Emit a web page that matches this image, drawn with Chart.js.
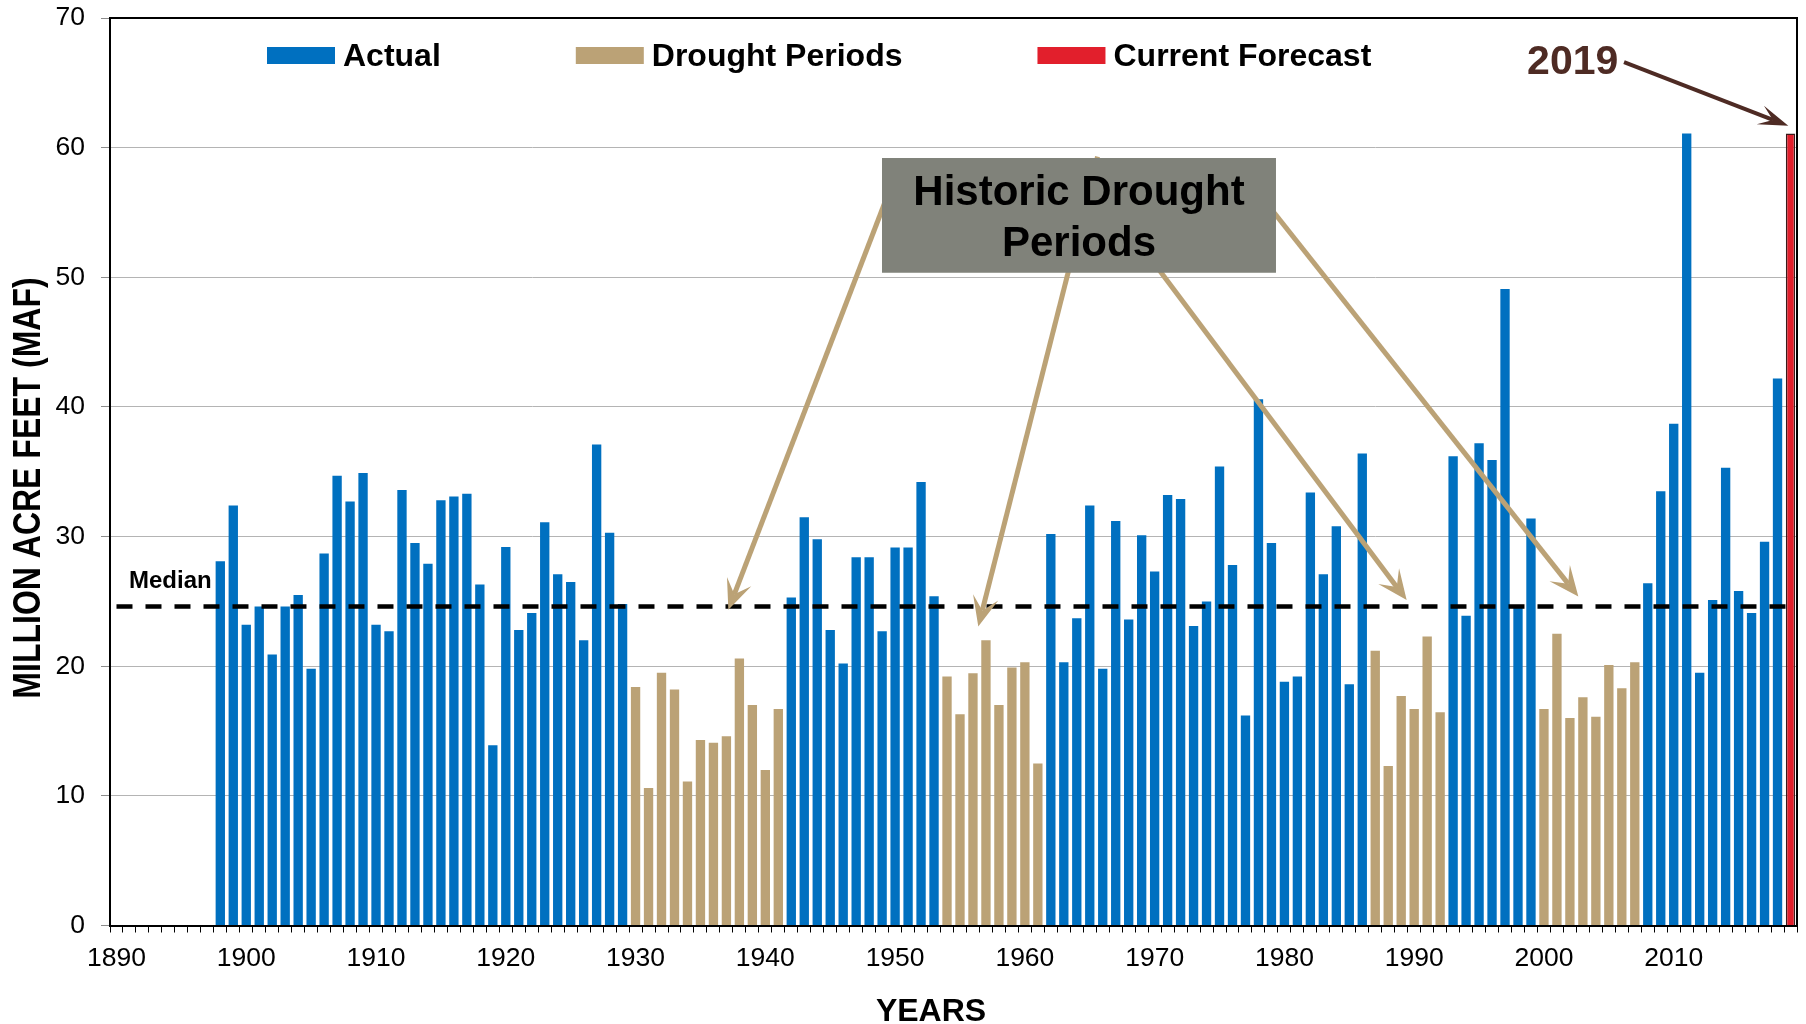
<!DOCTYPE html>
<html><head><meta charset="utf-8">
<script src="https://cdn.jsdelivr.net/npm/chart.js@4.4.1/dist/chart.umd.min.js"></script>
<style>html,body{margin:0;padding:0;background:#fff;}canvas{display:block;}</style>
</head><body>
<canvas id="c" width="1806" height="1024"></canvas>
<script>
// ---------------- DATA ----------------
const FIRST_YEAR = 1890;
const LAST_YEAR = 2019;
const FLOW_START_YEAR = 1898;
// Annual flow (million acre feet), 1898 .. 2019
const annualFlow = [
  28.1, 32.4,                                                 // 1898-1899
  23.2, 24.6, 20.9, 24.6, 25.5, 19.8, 28.7, 34.7, 32.7, 34.9, // 1900-1909
  23.2, 22.7, 33.6, 29.5, 27.9, 32.8, 33.1, 33.3, 26.3, 13.9, // 1910-1919
  29.2, 22.8, 24.1, 31.1, 27.1, 26.5, 22.0, 37.1, 30.3, 24.8, // 1920-1929
  18.4, 10.6, 19.5, 18.2, 11.1, 14.3, 14.1, 14.6, 20.6, 17.0, // 1930-1939
  12.0, 16.7, 25.3, 31.5, 29.8, 22.8, 20.2, 28.4, 28.4, 22.7, // 1940-1949
  29.15, 29.15, 34.2, 25.4, 19.2, 16.3, 19.45, 22.0, 17.0, 19.9, // 1950-1959
  20.3, 12.5, 30.2, 20.3, 23.7, 32.4, 19.8, 31.2, 23.6, 30.1, // 1960-1969
  27.3, 33.2, 32.9, 23.1, 25.0, 35.4, 27.8, 16.2, 40.6, 29.5, // 1970-1979
  18.8, 19.2, 33.4, 27.1, 30.8, 18.6, 36.4, 21.2, 12.3, 17.7, // 1980-1989
  16.7, 22.3, 16.45, 36.2, 23.9, 37.2, 35.9, 49.1, 24.6, 31.4, // 1990-1999
  16.7, 22.5, 16.0, 17.6, 16.1, 20.1, 18.3, 20.3, 26.4, 33.5, // 2000-2009
  38.7, 61.1, 19.5, 25.1, 35.3, 25.8, 24.1, 29.6, 42.2, 61.1  // 2010-2019
];
const droughtPeriods = [[1930, 1941], [1954, 1961], [1987, 1992], [2000, 2007]];
const forecastYear = 2019;
const medianFlow = 24.6;
const seriesNames = ['Actual', 'Drought Periods', 'Current Forecast'];
const yAxisTicks = [0, 10, 20, 30, 40, 50, 60, 70];
const xLabelEvery = 10;

// ---------------- BUILD ----------------
const years = [];
for (let y = FIRST_YEAR; y <= LAST_YEAR; y++) years.push(y);
const flowOf = y => (y >= FLOW_START_YEAR && y - FLOW_START_YEAR < annualFlow.length) ? annualFlow[y - FLOW_START_YEAR] : null;
const inDrought = y => droughtPeriods.some(p => y >= p[0] && y <= p[1]);
const actualData = years.map(y => (flowOf(y) !== null && !inDrought(y) && y !== forecastYear) ? flowOf(y) : null);
const droughtData = years.map(y => (flowOf(y) !== null && inDrought(y) && y !== forecastYear) ? flowOf(y) : null);
const forecastData = years.map(y => y === forecastYear ? flowOf(y) : null);
const medianData = years.map(() => medianFlow);

const FONT = "'Liberation Sans', Arial, Helvetica, sans-serif";
const BLUE = '#0070C0', TAN = '#BBA276', RED = '#E21F2C', BROWN = '#4E2B24';

// ---------------- ANNOTATIONS PLUGIN ----------------
function drawArrow(ctx, x0, y0, x1, y1, color, width, headLen, headW) {
  const ang = Math.atan2(y1 - y0, x1 - x0);
  const ux = Math.cos(ang), uy = Math.sin(ang);
  const px = -uy, py = ux;
  const notch = headLen * 0.55;
  ctx.save();
  ctx.strokeStyle = color; ctx.fillStyle = color; ctx.lineWidth = width; ctx.lineCap = 'butt';
  ctx.beginPath(); ctx.moveTo(x0, y0); ctx.lineTo(x1 - ux * notch, y1 - uy * notch); ctx.stroke();
  const bx = x1 - ux * headLen, by = y1 - uy * headLen;
  ctx.beginPath();
  ctx.moveTo(x1, y1);
  ctx.lineTo(bx + px * headW / 2, by + py * headW / 2);
  ctx.lineTo(x1 - ux * notch, y1 - uy * notch);
  ctx.lineTo(bx - px * headW / 2, by - py * headW / 2);
  ctx.closePath(); ctx.fill();
  ctx.restore();
}

const annotate = {
  id: 'annotate',
  beforeDraw(chart) {
    const ctx = chart.ctx;
    ctx.save(); ctx.fillStyle = '#fff'; ctx.fillRect(0, 0, chart.width, chart.height); ctx.restore();
  },
  afterDraw(chart) {
    const ctx = chart.ctx, a = chart.chartArea;
    const xs = chart.scales.x, ys = chart.scales.y;
    const X = yr => xs.getPixelForValue(yr - FIRST_YEAR);
    const Y = v => ys.getPixelForValue(v);
    ctx.save();
    // frame top & right
    ctx.strokeStyle = '#000'; ctx.lineWidth = 2;
    ctx.beginPath(); ctx.moveTo(a.left, a.top); ctx.lineTo(a.right, a.top); ctx.lineTo(a.right, a.bottom); ctx.stroke();

    // legend (inside plot)
    const colors = [BLUE, TAN, RED];
    ctx.font = `bold 32px ${FONT}`; ctx.textBaseline = 'alphabetic'; ctx.textAlign = 'left';
    let lx = a.left + 157;
    seriesNames.forEach((name, i) => {
      ctx.fillStyle = colors[i]; ctx.fillRect(lx, 47, 68, 17);
      ctx.fillStyle = '#000'; ctx.fillText(name, lx + 76, 66);
      lx += 76 + ctx.measureText(name).width + 135;
    });

    // Median label
    ctx.font = `bold 24px ${FONT}`; ctx.fillStyle = '#000';
    ctx.fillText('Median', a.left + 19, Y(medianFlow + 1.45));

    // drought arrows (drawn before box)
    const arrows = [
      [1949.3, 56.0, 1937.15, 24.36],
      [1965.6, 59.3, 1956.41, 23.07],
      [1968.0, 53.7, 1989.42, 25.10],
      [1978.4, 56.0, 2002.65, 25.37]
    ];
    arrows.forEach(r => drawArrow(ctx, X(r[0]), Y(r[1]), X(r[2]), Y(r[3]), TAN, 5, 30, 26));

    // box
    const bx0 = X(1948.99), bx1 = X(1979.35), by0 = Y(59.2), by1 = Y(50.35);
    ctx.fillStyle = '#80827A'; ctx.fillRect(bx0, by0, bx1 - bx0, by1 - by0);
    ctx.fillStyle = '#000'; ctx.font = `bold 42px ${FONT}`; ctx.textAlign = 'center';
    const cx = (bx0 + bx1) / 2;
    ctx.fillText('Historic Drought', cx, by0 + 47);
    ctx.fillText('Periods', cx, by0 + 97.5);

    // 2019 label + arrow
    ctx.textAlign = 'left'; ctx.fillStyle = BROWN; ctx.font = `bold 41px ${FONT}`;
    ctx.fillText(String(forecastYear), X(1998.7), Y(65.7));
    drawArrow(ctx, X(2006.17), Y(66.6), X(2018.83), Y(61.68), BROWN, 4, 30, 20);

    // axis titles
    ctx.fillStyle = '#000';
    ctx.font = `bold 32px ${FONT}`; ctx.textAlign = 'center';
    ctx.fillText('YEARS', 931, 1021);
    ctx.save();
    ctx.translate(29, 488); ctx.rotate(-Math.PI / 2); ctx.scale(1, 1.2);
    ctx.textBaseline = 'middle';
    ctx.fillText('MILLION ACRE FEET (MAF)', 0, 0);
    ctx.restore();
    ctx.restore();
  }
};

// ---------------- CHART ----------------
new Chart(document.getElementById('c'), {
  type: 'bar',
  data: {
    labels: years.map(String),
    datasets: [
      { type: 'line', label: 'Median', data: medianData, borderColor: '#000', borderWidth: 4.5,
        borderDash: [16, 13], pointRadius: 0, fill: false, tension: 0 },
      { label: seriesNames[0], data: actualData, backgroundColor: BLUE, grouped: false,
        categoryPercentage: 1, barPercentage: 0.72 },
      { label: seriesNames[1], data: droughtData, backgroundColor: TAN, grouped: false,
        categoryPercentage: 1, barPercentage: 0.72 },
      { label: seriesNames[2], data: forecastData, backgroundColor: RED, borderColor: '#3a1a1a',
        borderWidth: 1.5, grouped: false, categoryPercentage: 1, barPercentage: 0.72 }
    ]
  },
  options: {
    responsive: false, animation: false, devicePixelRatio: 1,
    layout: { padding: { left: 0, right: 9, top: 18, bottom: 0 } },
    plugins: { legend: { display: false }, tooltip: { enabled: false }, title: { display: false } },
    scales: {
      x: {
        offset: true,
        grid: { display: true, drawOnChartArea: false, drawTicks: true, tickLength: 7, color: '#000', lineWidth: 1, offset: true },
        border: { display: true, color: '#000', width: 2 },
        ticks: {
          autoSkip: false, maxRotation: 0, minRotation: 0, padding: 10, color: '#000',
          font: { family: FONT, size: 26.5 },
          callback: (v, i) => (years[i] % xLabelEvery === 0) ? String(years[i]) : ''
        },
        afterFit: s => { s.height = 98.5; s.paddingLeft = 0; s.paddingRight = 0; }
      },
      y: {
        min: yAxisTicks[0], max: yAxisTicks[yAxisTicks.length - 1],
        afterBuildTicks: s => { s.ticks = yAxisTicks.map(v => ({ value: v })); },
        grid: {
          color: c => (c.tick && (c.tick.value === 0 || c.tick.value === 70)) ? 'rgba(0,0,0,0)' : '#B4B4B4',
          tickColor: '#8c8c8c', lineWidth: 1, tickLength: 9, drawTicks: true
        },
        border: { display: true, color: '#000', width: 2 },
        ticks: { padding: 16, color: '#000', font: { family: FONT, size: 26.5 } },
        afterFit: s => { s.width = 110; s.paddingTop = 0; s.paddingBottom = 0; }
      }
    }
  },
  plugins: [annotate]
});
</script>
</body></html>
